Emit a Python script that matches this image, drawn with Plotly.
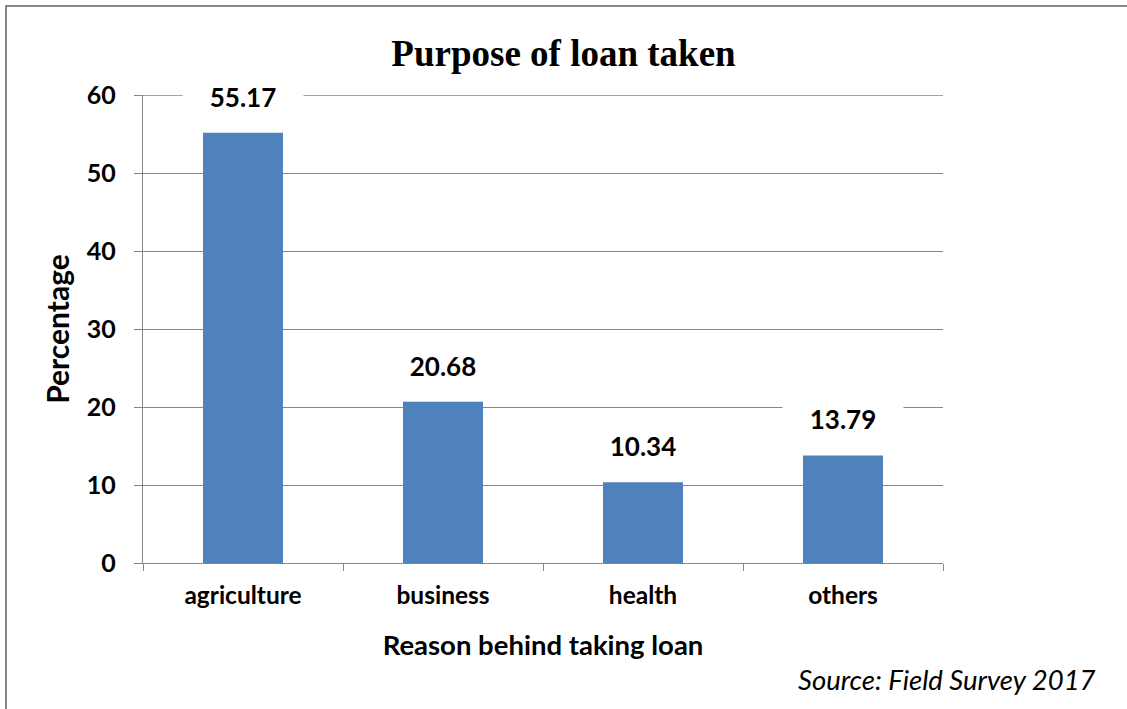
import plotly.graph_objects as go

# Survey results: share of respondents by loan purpose (%)
categories = ["agriculture", "business", "health", "others"]
percentages = [55.17, 20.68, 10.34, 13.79]
y_ticks = [0, 10, 20, 30, 40, 50, 60]

BAR_BLUE = "#4F81BD"
GRID_GREY = "#868686"
SANS = "Lato"

W, H = 1127, 709
L, R, T, B = 143, 184, 95, 146
plot_w, plot_h = W - L - R, H - T - B


def px_to_paper_x(px):
    return (px - L) / plot_w


def px_to_paper_y(py):
    return (H - B - py) / plot_h


fig = go.Figure(
    go.Bar(
        x=categories,
        y=percentages,
        width=0.4,
        marker=dict(color=BAR_BLUE, line=dict(width=0)),
        hoverinfo="skip",
    )
)

# plotly drops the gridline that sits on the top edge of the range, so draw it
fig.add_shape(
    type="line", xref="paper", yref="y",
    x0=0, x1=1, y0=y_ticks[-1], y1=y_ticks[-1],
    line=dict(color=GRID_GREY, width=1.3), layer="below",
)

# value labels sitting above each bar on a white box that breaks the gridlines
for cat, val in zip(categories, percentages):
    fig.add_annotation(
        x=cat, y=val, text=f"<b>{val:.2f}</b>",
        showarrow=False, yanchor="middle", yshift=36,
        width=116, height=32, bgcolor="white", borderpad=2,
        font=dict(family=SANS, size=26, color="black"),
    )

# source note
fig.add_annotation(
    xref="paper", yref="paper",
    x=px_to_paper_x(1098), y=px_to_paper_y(679),
    xanchor="right", yanchor="middle",
    text="<i>Source: Field Survey 2017</i>", showarrow=False,
    font=dict(family=SANS, size=27.5, color="black"),
)

# outer frame
fig.add_shape(
    type="rect", xref="paper", yref="paper",
    x0=px_to_paper_x(6), x1=px_to_paper_x(1135),
    y0=px_to_paper_y(715), y1=px_to_paper_y(6),
    line=dict(color=GRID_GREY, width=2), fillcolor="rgba(0,0,0,0)",
    layer="below",
)

fig.update_layout(
    width=W, height=H, autosize=False,
    margin=dict(l=L, r=R, t=T, b=B, pad=0),
    paper_bgcolor="white", plot_bgcolor="white",
    showlegend=False,
    title=dict(
        text="<b>Purpose of loan taken</b>",
        x=0.5, xref="container", xanchor="center",
        y=1 - 53 / H, yref="container", yanchor="middle",
        font=dict(family="Liberation Serif", size=37, color="black"),
    ),
    xaxis=dict(
        type="category", range=[-0.5, 3.5],
        tickson="boundaries", ticks="outside", ticklen=7,
        tickcolor=GRID_GREY, tickwidth=1.3,
        showline=True, linecolor=GRID_GREY, linewidth=1.3,
        showgrid=False,
        tickfont=dict(family=SANS, size=24.5, color="black"),
        ticklabelstandoff=10,
        title=dict(
            text="<b>Reason behind taking loan</b>", standoff=28,
            font=dict(family=SANS, size=27.5, color="black"),
        ),
    ),
    yaxis=dict(
        range=[0, 60], tickvals=y_ticks,
        ticktext=[f"<b>{v}</b>" for v in y_ticks],
        ticks="outside", ticklen=8, tickcolor=GRID_GREY, tickwidth=1.3,
        showline=True, linecolor=GRID_GREY, linewidth=1.3,
        showgrid=True, gridcolor=GRID_GREY, gridwidth=1.3,
        zeroline=False,
        tickfont=dict(family=SANS, size=25, color="black"),
        ticklabelstandoff=13,
        title=dict(
            text="<b>Percentage</b>", standoff=8,
            font=dict(family=SANS, size=30, color="black"),
        ),
    ),
)

fig.update_xaxes(ticktext=[f"<b>{c}</b>" for c in categories], tickvals=categories)

fig.write_html("out.html")
